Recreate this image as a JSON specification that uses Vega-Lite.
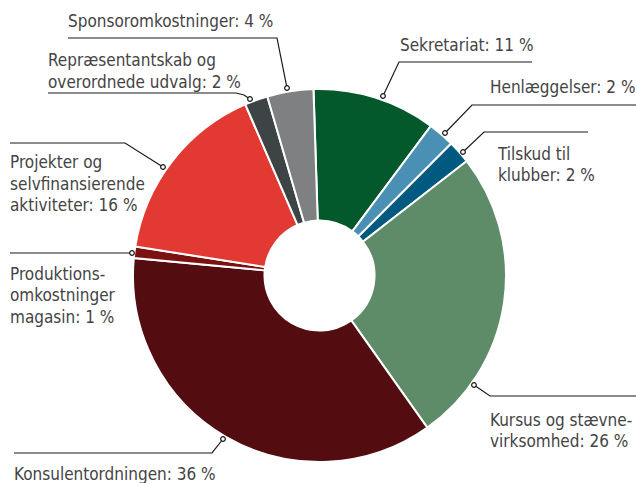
{
  "$schema": "https://vega.github.io/schema/vega-lite/v6.json",
  "width": 636,
  "height": 483,
  "padding": 0,
  "autosize": {"type": "none"},
  "background": "white",
  "config": {"view": {"stroke": null}},
  "datasets": {
    "slices": [
      {"i": 1, "name": "Sekretariat", "pct": 10.7},
      {"i": 2, "name": "Henlæggelser", "pct": 2.3},
      {"i": 3, "name": "Tilskud til klubber", "pct": 2.0},
      {"i": 4, "name": "Kursus og stævnevirksomhed", "pct": 25.7},
      {"i": 5, "name": "Konsulentordningen", "pct": 36.3},
      {"i": 6, "name": "Produktionsomkostninger magasin", "pct": 1.0},
      {"i": 7, "name": "Projekter og selvfinansierende aktiviteter", "pct": 16.0},
      {"i": 8, "name": "Repræsentantskab og overordnede udvalg", "pct": 2.0},
      {"i": 9, "name": "Sponsoromkostninger", "pct": 4.0}
    ],
    "leaders": [
      {"k": "Sponsor", "j": 1, "u": -1.3485, "v": 1.2735},
      {"k": "Sponsor", "j": 2, "u": -0.2279, "v": 1.2735},
      {"k": "Sponsor", "j": 3, "u": -0.1743, "v": 1.0054},
      {"k": "Repr", "j": 1, "u": -1.4558, "v": 0.9786},
      {"k": "Repr", "j": 2, "u": -0.4477, "v": 0.9786},
      {"k": "Repr", "j": 3, "u": -0.4048, "v": 0.9678},
      {"k": "Repr", "j": 4, "u": -0.3727, "v": 0.9464},
      {"k": "Sekr", "j": 1, "u": 1.1394, "v": 1.1448},
      {"k": "Sekr", "j": 2, "u": 0.4263, "v": 1.1448},
      {"k": "Sekr", "j": 3, "u": 0.3405, "v": 0.9625},
      {"k": "Henl", "j": 1, "u": 1.6971, "v": 0.9142},
      {"k": "Henl", "j": 2, "u": 0.8177, "v": 0.9142},
      {"k": "Henl", "j": 3, "u": 0.6729, "v": 0.7641},
      {"k": "Tilsk", "j": 1, "u": 1.4397, "v": 0.7694},
      {"k": "Tilsk", "j": 2, "u": 0.8820, "v": 0.7694},
      {"k": "Tilsk", "j": 3, "u": 0.7694, "v": 0.6622},
      {"k": "Proj", "j": 1, "u": -1.6595, "v": 0.7105},
      {"k": "Proj", "j": 2, "u": -1.0429, "v": 0.7105},
      {"k": "Proj", "j": 3, "u": -0.8391, "v": 0.5818},
      {"k": "Prod", "j": 1, "u": -1.6595, "v": 0.1206},
      {"k": "Prod", "j": 2, "u": -1.0054, "v": 0.1206},
      {"k": "Kurs", "j": 1, "u": 1.6971, "v": -0.6461},
      {"k": "Kurs", "j": 2, "u": 0.9142, "v": -0.6461},
      {"k": "Kurs", "j": 3, "u": 0.8284, "v": -0.5871},
      {"k": "Kons", "j": 1, "u": -1.6381, "v": -0.9517},
      {"k": "Kons", "j": 2, "u": -0.5764, "v": -0.9517},
      {"k": "Kons", "j": 3, "u": -0.5174, "v": -0.8767}
    ],
    "dots": [
      {"k": "Sponsor", "u": -0.1743, "v": 1.0054},
      {"k": "Repr", "u": -0.3727, "v": 0.9464},
      {"k": "Sekr", "u": 0.3405, "v": 0.9625},
      {"k": "Henl", "u": 0.6729, "v": 0.7641},
      {"k": "Tilsk", "u": 0.7694, "v": 0.6622},
      {"k": "Proj", "u": -0.8391, "v": 0.5818},
      {"k": "Prod", "u": -1.0054, "v": 0.1206},
      {"k": "Kurs", "u": 0.8284, "v": -0.5871},
      {"k": "Kons", "u": -0.5174, "v": -0.8767}
    ],
    "labels": [
      {"t": "Sponsoromkostninger: 4 %", "u": -1.3485, "v": 1.3324},
      {"t": "Repræsentantskab og\noverordnede udvalg: 2 %", "u": -1.4558, "v": 1.1233},
      {"t": "Sekretariat: 11 %", "u": 0.4316, "v": 1.2038},
      {"t": "Henlæggelser: 2 %", "u": 0.9142, "v": 0.9786},
      {"t": "Tilskud til\nklubber: 2 %", "u": 0.9571, "v": 0.6193},
      {"t": "Projekter og\nselvfinansierende\naktiviteter: 16 %", "u": -1.6595, "v": 0.5764},
      {"t": "Produktions-\nomkostninger\nmagasin: 1 %", "u": -1.6595, "v": -0.0241},
      {"t": "Kursus og stævne-\nvirksomhed: 26 %", "u": 0.9142, "v": -0.8043},
      {"t": "Konsulentordningen: 36 %", "u": -1.6381, "v": -1.0965}
    ]
  },
  "layer": [
    {
      "data": {"name": "slices"},
      "mark": {"type": "arc", "outerRadius": 186.5, "innerRadius": 55, "stroke": "white", "strokeWidth": 2},
      "encoding": {
        "theta": {"field": "pct", "type": "quantitative", "stack": true, "scale": {"domain": [0, 100], "range": [-0.0323, 6.2509]}},
        "order": {"field": "i", "type": "quantitative"},
        "color": {
          "field": "name", "type": "nominal", "legend": null,
          "scale": {
            "domain": ["Sekretariat", "Henlæggelser", "Tilskud til klubber", "Kursus og stævnevirksomhed", "Konsulentordningen", "Produktionsomkostninger magasin", "Projekter og selvfinansierende aktiviteter", "Repræsentantskab og overordnede udvalg", "Sponsoromkostninger"],
            "range": ["#03592b", "#4a90b4", "#005a80", "#5e8c68", "#530d11", "#7d1010", "#e23a33", "#3c4446", "#7f8082"]
          }
        },
        "x": {"datum": 0, "type": "quantitative", "scale": {"domain": [-1.7131, 1.6971], "nice": false, "zero": false}, "axis": null},
        "y": {"datum": 0, "type": "quantitative", "scale": {"domain": [-1.1126, 1.4772], "nice": false, "zero": false}, "axis": null}
      }
    },
    {
      "data": {"name": "leaders"},
      "mark": {"type": "line", "stroke": "#1a1a1a", "strokeWidth": 1.2},
      "encoding": {
        "x": {"field": "u", "type": "quantitative", "scale": {"domain": [-1.7131, 1.6971], "nice": false, "zero": false}, "axis": null},
        "y": {"field": "v", "type": "quantitative", "scale": {"domain": [-1.1126, 1.4772], "nice": false, "zero": false}, "axis": null},
        "detail": {"field": "k", "type": "nominal"},
        "order": {"field": "j", "type": "quantitative"}
      }
    },
    {
      "data": {"name": "dots"},
      "mark": {"type": "point", "shape": "circle", "size": 22, "filled": true, "fill": "white", "stroke": "#1a1a1a", "strokeWidth": 1.2, "opacity": 1},
      "encoding": {
        "x": {"field": "u", "type": "quantitative", "axis": null},
        "y": {"field": "v", "type": "quantitative", "axis": null}
      }
    },
    {
      "data": {"name": "labels"},
      "mark": {"type": "text", "align": "left", "baseline": "alphabetic", "lineBreak": "\n", "lineHeight": 21.5, "font": "DejaVu Sans Condensed", "fontSize": 17, "color": "#444444"},
      "encoding": {
        "x": {"field": "u", "type": "quantitative", "axis": null},
        "y": {"field": "v", "type": "quantitative", "axis": null},
        "text": {"field": "t", "type": "nominal"}
      }
    }
  ]
}
